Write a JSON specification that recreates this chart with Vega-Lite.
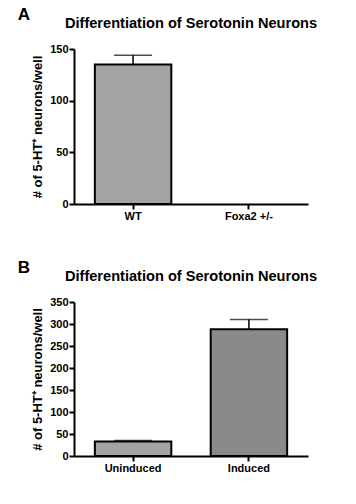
{
  "$schema": "https://vega.github.io/schema/vega-lite/v6.json",
  "padding": {"left": 17, "top": 6, "right": 5, "bottom": 5},
  "background": "white",
  "config": {
    "view": {"stroke": null},
    "font": "Liberation Sans",
    "axis": {
      "domainColor": "black", "domainWidth": 2,
      "tickColor": "black", "tickWidth": 2, "tickSize": 5,
      "labelFont": "Liberation Sans", "labelFontWeight": "bold", "labelFontSize": 11, "labelColor": "black",
      "titleFont": "Liberation Sans", "titleFontWeight": "bold", "titleFontSize": 13, "titleColor": "black",
      "grid": false, "labelOverlap": false
    },
    "title": {"font": "Liberation Sans", "fontWeight": "bold", "color": "black"}
  },
  "spacing": 38,
  "vconcat": [
    {
      "title": {"text": "A", "anchor": "start", "fontSize": 17, "dx": -14, "offset": -8},
      "vconcat": [
        {
          "title": {"text": "Differentiation of Serotonin Neurons", "fontSize": 14.6, "offset": 12},
          "width": 234,
          "height": 155,
          "data": {"values": [
            {"group": "WT", "mean": 135, "upper": 144},
            {"group": "Foxa2 +/-", "mean": null, "upper": null}
          ]},
          "encoding": {
            "x": {"field": "group", "type": "nominal", "sort": null,
                  "scale": {"domain": ["WT", "Foxa2 +/-"], "paddingInner": 0.34, "paddingOuter": 0.18},
                  "axis": {"title": null, "labelAngle": 0, "labelPadding": 1}},
            "y": {"field": "mean", "type": "quantitative",
                  "scale": {"domain": [0, 150], "nice": false},
                  "axis": {"values": [0, 50, 100, 150], "title": "# of 5-HT⁺ neurons/well", "labelPadding": 1, "titlePadding": 5, "labelOverlap": false}}
          },
          "layer": [
            {
              "mark": {"type": "rule", "stroke": "black", "strokeWidth": 1.5},
              "encoding": {"y2": {"field": "upper"}}
            },
            {
              "mark": {"type": "tick", "color": "black", "size": 38, "thickness": 1.5},
              "encoding": {"y": {"field": "upper", "type": "quantitative"}}
            },
            {
              "mark": {"type": "bar", "stroke": "black", "strokeWidth": 2},
              "encoding": {
                "color": {"field": "group", "type": "nominal", "legend": null,
                          "scale": {"domain": ["WT", "Foxa2 +/-"], "range": ["#a3a3a3", "#8a8a8a"]}}
              }
            }
          ]
        }
      ]
    },
    {
      "title": {"text": "B", "anchor": "start", "fontSize": 17, "dx": -14, "offset": -8},
      "vconcat": [
        {
          "title": {"text": "Differentiation of Serotonin Neurons", "fontSize": 14.6, "offset": 12},
          "width": 234,
          "height": 154,
          "data": {"values": [
            {"group": "Uninduced", "mean": 33, "upper": 35},
            {"group": "Induced", "mean": 288, "upper": 310}
          ]},
          "encoding": {
            "x": {"field": "group", "type": "nominal", "sort": null,
                  "scale": {"domain": ["Uninduced", "Induced"], "paddingInner": 0.34, "paddingOuter": 0.18},
                  "axis": {"title": null, "labelAngle": 0, "labelPadding": 1}},
            "y": {"field": "mean", "type": "quantitative",
                  "scale": {"domain": [0, 350], "nice": false},
                  "axis": {"values": [0, 50, 100, 150, 200, 250, 300, 350], "title": "# of 5-HT⁺ neurons/well", "labelPadding": 1, "titlePadding": 5, "labelOverlap": false}}
          },
          "layer": [
            {
              "mark": {"type": "rule", "stroke": "black", "strokeWidth": 1.5},
              "encoding": {"y2": {"field": "upper"}}
            },
            {
              "mark": {"type": "tick", "color": "black", "size": 38, "thickness": 1.5},
              "encoding": {"y": {"field": "upper", "type": "quantitative"}}
            },
            {
              "mark": {"type": "bar", "stroke": "black", "strokeWidth": 2},
              "encoding": {
                "color": {"field": "group", "type": "nominal", "legend": null,
                          "scale": {"domain": ["Uninduced", "Induced"], "range": ["#a3a3a3", "#858585"]}}
              }
            }
          ]
        }
      ]
    }
  ]
}
